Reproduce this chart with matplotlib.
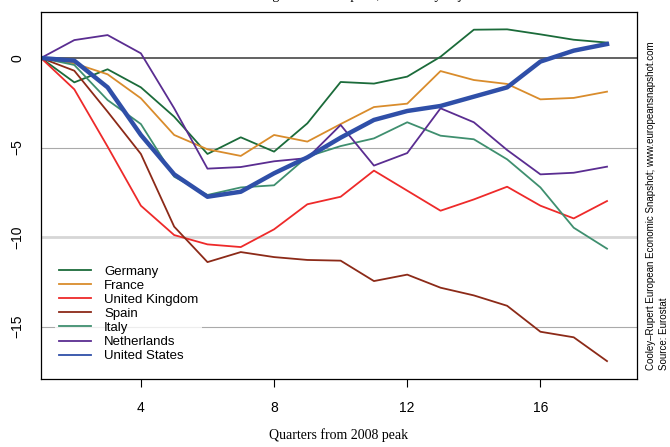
import matplotlib
matplotlib.use('Agg')
import matplotlib.pyplot as plt
import numpy as np

quarters = np.arange(1, 19)

germany = [0, -1.36, -0.63, -1.64, -3.28, -5.36, -4.43, -5.23, -3.65, -1.34,
           -1.43, -1.04, 0.07, 1.58, 1.60, 1.32, 1.02, 0.86]
france = [0, -0.30, -0.91, -2.25, -4.30, -5.10, -5.47, -4.30, -4.67, -3.69,
          -2.74, -2.55, -0.73, -1.23, -1.45, -2.31, -2.23, -1.88]
uk = [0, -1.75, -4.95, -8.25, -9.89, -10.41, -10.56, -9.57, -8.17, -7.75,
      -6.29, -7.41, -8.53, -7.90, -7.19, -8.25, -8.96, -7.99]
spain = [0, -0.71, -3.00, -5.36, -9.42, -11.40, -10.84, -11.12, -11.28, -11.32,
         -12.46, -12.10, -12.83, -13.26, -13.84, -15.29, -15.60, -16.93]
italy = [0, -0.39, -2.35, -3.69, -6.63, -7.65, -7.23, -7.11, -5.51, -4.92,
         -4.49, -3.59, -4.34, -4.54, -5.66, -7.23, -9.48, -10.65]
netherlands = [0, 1.00, 1.28, 0.26, -2.81, -6.18, -6.09, -5.77, -5.59, -3.74,
               -6.01, -5.31, -2.81, -3.59, -5.14, -6.50, -6.41, -6.07]
us = [0, -0.15, -1.64, -4.30, -6.50, -7.75, -7.47, -6.44, -5.55, -4.45,
      -3.46, -2.96, -2.68, -2.16, -1.64, -0.20, 0.41, 0.78]

names = ['Germany', 'France', 'United Kingdom', 'Spain', 'Italy',
         'Netherlands', 'United States']
series = [germany, france, uk, spain, italy, netherlands, us]
colors = ['#1b6b3a', '#d98c2c', '#ee2a2a', '#8c2a18', '#3f8f6f',
          '#5a2d91', '#2f4fa8']
widths = [1.3, 1.3, 1.3, 1.3, 1.3, 1.3, 3.2]

fig = plt.figure(figsize=(6.7, 4.47), dpi=100)
ax = fig.add_axes([0.0612, 0.1521, 0.8895, 0.8211])

ax.axhline(0, color='#555555', lw=1.3, zorder=1)
ax.axhline(-5, color='#aaaaaa', lw=0.8, zorder=1)
ax.axhline(-10, color='#d6d6d6', lw=2.0, zorder=1)
ax.axhline(-15, color='#aaaaaa', lw=0.8, zorder=1)

for name, vals, c, w in zip(names, series, colors, widths):
    ax.plot(quarters, vals, color=c, lw=w, label=name, zorder=2)

ax.set_xlim(1, 18.9)
ax.set_ylim(-17.93, 2.57)
ax.set_xticks([4, 8, 12, 16])
ax.set_yticks([0, -5, -10, -15])
ax.set_yticklabels(['0', '\u22125', '\u221210', '\u221215'], rotation=90,
                   va='center', family='Liberation Sans', fontsize=10)
ax.set_xticklabels(['4', '8', '12', '16'], family='Liberation Sans', fontsize=10)
ax.tick_params(axis='y', length=0, pad=12)
ax.tick_params(axis='x', length=6, pad=10, width=0.8)
for s in ax.spines.values():
    s.set_linewidth(0.9)

ax.set_xlabel('Quarters from 2008 peak', family='Liberation Serif', fontsize=10,
              labelpad=9)

# legend: white box, no border
leg = ax.legend(loc='lower left', bbox_to_anchor=(0.013, 0.017), frameon=True,
                prop={'family': 'Liberation Sans', 'size': 9.5},
                handlelength=2.4, labelspacing=0.14, handletextpad=1.0,
                borderpad=0.3, fancybox=False)
leg.get_frame().set_edgecolor('none')
leg.get_frame().set_facecolor('white')
for h in leg.get_lines():
    h.set_linewidth(1.3)

# title sits mostly above the canvas, as in the reference
fig.text(0.505, 1.0 + 1.5 / 447, 'Real GDP change from 2008 peak, seasonally adjusted',
         ha='center', va='baseline', family='Liberation Serif', fontsize=10)

ax.text(1.0235, 0.024,
        'Cooley\u2013Rupert European Economic Snapshot; www.europeansnapshot.com',
        rotation=90, ha='center', va='bottom', transform=ax.transAxes,
        family='Liberation Sans', fontsize=7.0)
ax.text(1.0453, 0.024, 'Source: Eurostat', rotation=90, ha='center',
        va='bottom', transform=ax.transAxes, family='Liberation Sans',
        fontsize=7.0)

fig.savefig('out.png', dpi=100)
